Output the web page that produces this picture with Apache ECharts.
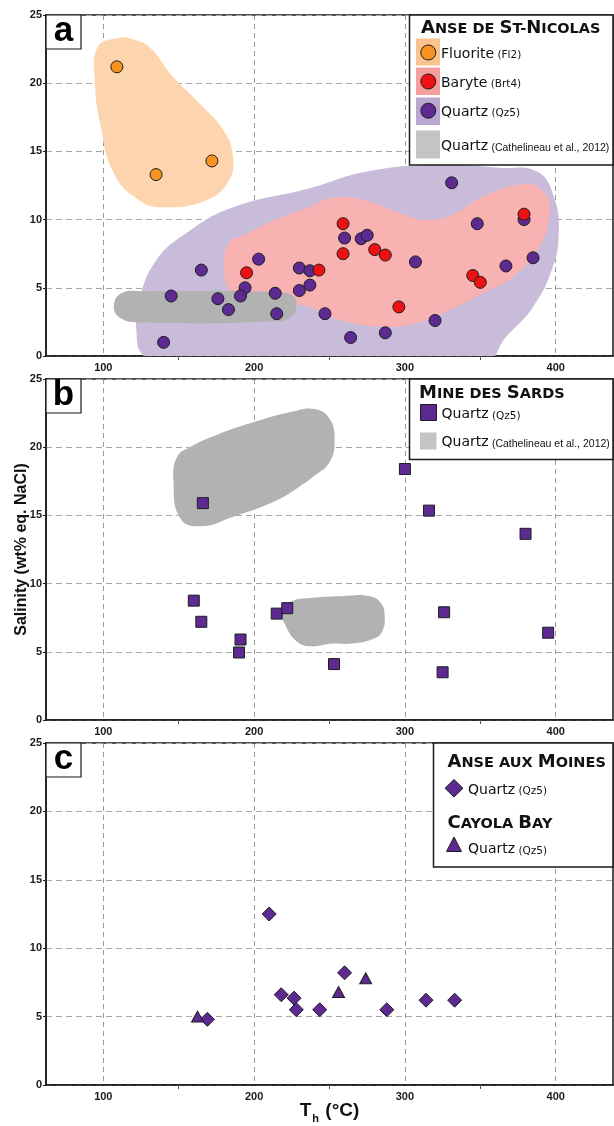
<!DOCTYPE html>
<html>
<head>
<meta charset="utf-8">
<script src="https://cdn.jsdelivr.net/npm/echarts@6/dist/echarts.min.js"></script>
<style>
html,body{margin:0;padding:0;background:#fff;}
#chart{width:614px;height:1126px;}
</style>
</head>
<body>
<div id="chart"></div>
<script>
// ---------- DATA ----------
// x ticks
const xTickLabels = [100, 200, 300, 400];
const xMinorTicks = [150, 250, 350];
// Panel a : Anse de St-Nicolas  [Th (°C), salinity wt% eq. NaCl]
const fluoriteFl2 = [[109,21.2],[135,13.3],[172,14.3]];
const baryteBrt4 = [[195,6.1],[259,9.7],[259,7.5],[243,6.3],[280,7.8],[287,7.4],[296,3.6],[345,5.9],[350,5.4],[379,10.4]];
const quartzQz5A = [[165,6.3],[203,7.1],[194,5.0],[191,4.4],[145,4.4],[176,4.2],[183,3.4],[140,1.0],[214,4.6],[215,3.1],
  [230,6.45],[230,4.8],[237,6.25],[237,5.2],[247,3.1],[260,8.65],[271,8.6],[275,8.85],[264,1.35],[287,1.7],
  [307,6.9],[320,2.6],[331,12.7],[348,9.7],[367,6.6],[379,10.0],[385,7.2]];
// Panel b : Mine des Sards
const quartzQz5B = [[166,15.9],[160,8.75],[165,7.2],[191,5.9],[190,4.95],[215,7.8],[222,8.2],[300,18.4],[316,15.35],
  [380,13.65],[326,7.9],[395,6.4],[253,4.1],[325,3.5]];
// Panel c : Anse aux Moines (diamonds) and Cayola Bay (triangles)
const moinesQz5 = [[210,12.5],[169,4.8],[218,6.6],[226.5,6.35],[228,5.5],[243.5,5.5],[260,8.2],[288,5.5],[314,6.2],[333,6.2]];
const cayolaQz5 = [[162.5,5.0],[256,6.8],[274,7.8]];
// Field outlines (data units)
const fieldFluorite = [[108.8,23.3],[120,23.2],[131,22.6],[146,20.5],[164,18.5],[180,16.5],[186,14.6],[183,12.8],[168,11.4],[140,10.9],[124,11.4],[107,13.4],[98,17],[94.5,20],[96,22.6]];
const fieldQuartzA = [[122,1.7],[124,4.1],[135,7.0],[155,9.0],[186,10.9],[237,12.3],[274,13.5],[318,14.0],[363,13.8],[388,13.5],[399,11.6],[402,9.0],[398,6.5],[385,3.6],[367,1.4],[352,-0.6],[250,-1.0],[140,-0.6],[126,0.1]];
const fieldBaryte = [[180,6.6],[184,8.4],[192,8.8],[212,9.9],[237,10.95],[252,11.6],[274,11.4],[296,10.5],[314,9.97],[332,10.4],[354,11.8],[380,12.6],[393,11.9],[396,10.4],[389,8.0],[371.5,5.8],[351.6,4.6],[329.6,3.37],[307.5,2.4],[285.4,2.15],[256.8,2.64],[237,3.6],[208,3.98],[186,4.6]];
const fieldCathA = [[107,3.7],[112,4.6],[125,4.75],[215,4.68],[226,4.4],[228,3.7],[225,2.9],[215,2.55],[125,2.45],[111,2.8]];
const fieldCathB1 = [[146.5,17.6],[149,19.3],[157.4,20.0],[175,20.9],[201.6,21.9],[225,22.6],[240,22.8],[250,22.1],[253.4,20.5],[250,18.9],[240,17.9],[230,17.1],[214.8,16.1],[186,14.9],[165,14.2],[151,14.8]];
const fieldCathB2 = [[218,8.0],[225,8.7],[237,8.95],[260,9.1],[276,9.1],[284,8.6],[286.6,7.6],[285,6.5],[280,6.0],[265,5.6],[252,5.6],[237,5.4],[228,5.8],[221,6.9]];

// ---------- STYLE ----------
const C = {
  orangeField:'#fcd4ad', pinkField:'#f8b2b2', purpleField:'#c9bbda', greyField:'#b2b2b2',
  orange:'#f7931e', red:'#ee1111', purple:'#5c2a91', edge:'#1e1e1e'
};
const grids = [
  {left:46, top:15, width:567, height:341},
  {left:46, top:379, width:567, height:341},
  {left:46, top:743, width:567, height:342}
];
const tickFont = {fontWeight:'bold', fontSize:11, color:'#1a1a1a', fontFamily:'Liberation Sans, Arial, sans-serif'};

function xAxes(g){
  const main = {
    gridIndex:g, type:'value', min:62, max:438, position:'bottom',
    axisLine:{show:true, onZero:false, lineStyle:{color:'#1a1a1a', width:1.5}},
    axisTick:{show:false, customValues:xTickLabels},
    axisLabel:Object.assign({customValues:xTickLabels, margin:6}, tickFont),
    splitLine:{show:true, lineStyle:{type:[5,4], color:'#9a9a9a', width:1}}
  };
  if (g===2){
    main.name = '{t|T}{s|h}{t| (°C)}';
    main.nameLocation = 'middle';
    main.nameGap = 15;
    main.nameMoveOverlap = false;
    main.nameTextStyle = {rich:{
      t:{fontSize:19, fontWeight:'bold', fontFamily:'Liberation Sans, Arial', color:'#111', verticalAlign:'bottom', lineHeight:20},
      s:{fontSize:11, fontWeight:'bold', fontFamily:'Liberation Sans, Arial', color:'#111', verticalAlign:'bottom', lineHeight:14, padding:[0,1,-4,1]}
    }};
  }
  const minor = {
    gridIndex:g, type:'value', min:62, max:438, position:'bottom',
    axisLine:{show:false}, axisLabel:{show:false}, splitLine:{show:false},
    axisTick:{show:true, customValues:xMinorTicks, length:4, lineStyle:{color:'#555', width:1}}
  };
  return [main, minor];
}
function yAxis(g){
  const y = {
    gridIndex:g, type:'value', min:0, max:25, interval:5,
    axisLine:{show:true, lineStyle:{color:'#1a1a1a', width:1.5}},
    axisTick:{show:true, length:3, lineStyle:{color:'#1a1a1a'}},
    axisLabel:Object.assign({margin:4}, tickFont),
    splitLine:{show:true, lineStyle:{type:[6,4], color:'#a8a8a8', width:1}}
  };
  if (g===1){
    y.name = 'Salinity (wt% eq. NaCl)';
    y.nameLocation = 'middle';
    y.nameGap = 16;
    y.nameMoveOverlap = false;
    y.nameTextStyle = {fontSize:16, fontWeight:'bold', fontFamily:'Liberation Sans, Arial', color:'#111'};
  }
  return y;
}
function field(name, g, pts, color, z){
  return {
    name, type:'custom', xAxisIndex:2*g, yAxisIndex:g, clip:true, silent:true, z,
    data: pts,
    renderItem:function(params, api){
      if (params.dataIndex !== 0) return null;
      return {type:'polygon', shape:{points: pts.map(p=>api.coord(p)), smooth:0.45},
              style:{fill:color}};
    }
  };
}
function points(name, g, data, symbol, size, color){
  return {
    name, type:'scatter', xAxisIndex:2*g, yAxisIndex:g, data, symbol, symbolSize:size, z:10,
    itemStyle:{color:color, borderColor:C.edge, borderWidth:1, opacity:1}
  };
}

// ---------- LEGEND / PANEL LABEL GRAPHICS ----------
const DJ = 'DejaVu Sans, Verdana, sans-serif';
const capsRich = {
  b:{fontSize:18, fontWeight:'bold', fontFamily:DJ, fill:'#111', verticalAlign:'bottom', lineHeight:20},
  s:{fontSize:14.5, fontWeight:'bold', fontFamily:DJ, fill:'#111', verticalAlign:'bottom', lineHeight:17}
};
const entryRich = {
  n:{fontSize:14, fontFamily:DJ, fill:'#111', verticalAlign:'bottom', lineHeight:17},
  p:{fontSize:10.5, fontFamily:DJ, fill:'#111', verticalAlign:'bottom', lineHeight:14},
  c:{fontSize:10.5, fontFamily:'Liberation Sans Narrow, Liberation Sans, Arial', fill:'#111', verticalAlign:'bottom', lineHeight:14}
};
function txt(x, y, text, rich){
  return {type:'text', x, y, z:100, style:{text, rich, align:'left', verticalAlign:'middle'}};
}
function box(x, y, w, h){
  return {type:'rect', z:99, shape:{x, y, width:w, height:h}, style:{fill:'#fff', stroke:'#1a1a1a', lineWidth:1.5}};
}
function panelLabel(y, letter){
  return [
    {type:'rect', z:99, shape:{x:46, y:y, width:35, height:34}, style:{fill:'#fff', stroke:'#1a1a1a', lineWidth:1.2}},
    {type:'text', z:100, x:63.5, y:y+16, style:{text:letter, font:'bold 35px Liberation Sans, Arial', fill:'#000', align:'center', verticalAlign:'middle'}}
  ];
}
const graphics = [].concat(
  panelLabel(15,'a'), panelLabel(379,'b'), panelLabel(743,'c'),
  // legend a
  [box(409.5, 15, 203.5, 150),
   txt(421, 27, '{b|A}{s|NSE DE }{b|S}{s|T-}{b|N}{s|ICOLAS}', capsRich),
   {type:'rect', z:100, shape:{x:416, y:38.5, width:24, height:27}, style:{fill:'#f9c28e'}},
   {type:'circle', z:101, shape:{cx:428.3, cy:52.5, r:7.5}, style:{fill:C.orange, stroke:C.edge, lineWidth:1}},
   txt(441, 52.5, '{n|Fluorite} {p|(Fl2)}', entryRich),
   {type:'rect', z:100, shape:{x:416, y:67.5, width:24, height:27.5}, style:{fill:'#f49e9e'}},
   {type:'circle', z:101, shape:{cx:428.3, cy:81.5, r:7.5}, style:{fill:C.red, stroke:C.edge, lineWidth:1}},
   txt(441, 81.5, '{n|Baryte} {p|(Brt4)}', entryRich),
   {type:'rect', z:100, shape:{x:416, y:97.5, width:24, height:27.5}, style:{fill:'#b9a6d1'}},
   {type:'circle', z:101, shape:{cx:428.3, cy:110.7, r:7.5}, style:{fill:C.purple, stroke:C.edge, lineWidth:1}},
   txt(441, 110.7, '{n|Quartz} {p|(Qz5)}', entryRich),
   {type:'rect', z:100, shape:{x:416, y:130.5, width:24, height:28}, style:{fill:'#c4c4c4'}},
   txt(441, 145, '{n|Quartz} {c|(Cathelineau et al., 2012)}', entryRich)
  ],
  // legend b
  [box(409.5, 379, 203.5, 80.5),
   txt(419, 392, '{b|M}{s|INE DES }{b|S}{s|ARDS}', capsRich),
   {type:'rect', z:101, shape:{x:420.5, y:404.5, width:16, height:16}, style:{fill:C.purple, stroke:C.edge, lineWidth:1}},
   txt(441.5, 413, '{n|Quartz} {p|(Qz5)}', entryRich),
   {type:'rect', z:100, shape:{x:420, y:432.5, width:16.5, height:17}, style:{fill:'#c4c4c4'}},
   txt(441.5, 441, '{n|Quartz} {c|(Cathelineau et al., 2012)}', entryRich)
  ],
  // legend c
  [box(433.5, 743, 179.5, 124),
   txt(447.5, 761, '{b|A}{s|NSE AUX }{b|M}{s|OINES}', capsRich),
   {type:'polygon', z:101, shape:{points:[[454,779.5],[463,788.3],[454,797],[445,788.3]]}, style:{fill:C.purple, stroke:C.edge, lineWidth:1}},
   txt(468, 788.5, '{n|Quartz} {p|(Qz5)}', entryRich),
   txt(447.5, 822, '{b|C}{s|AYOLA }{b|B}{s|AY}', capsRich),
   {type:'polygon', z:101, shape:{points:[[454,837],[461.5,851.5],[446.5,851.5]]}, style:{fill:C.purple, stroke:C.edge, lineWidth:1}},
   txt(468, 848, '{n|Quartz} {p|(Qz5)}', entryRich)
  ]
);

// ---------- CHART ----------
const chart = echarts.init(document.getElementById('chart'), null, {renderer:'canvas'});
chart.setOption({
  animation:false,
  backgroundColor:'#fff',
  grid: grids.map(g=>Object.assign({show:true, borderColor:'#1a1a1a', borderWidth:1.5, backgroundColor:'transparent', containLabel:false, outerBoundsMode:'none'}, g)),
  xAxis: [].concat(xAxes(0), xAxes(1), xAxes(2)),
  yAxis: [yAxis(0), yAxis(1), yAxis(2)],
  series: [
    field('Quartz (Qz5) field', 0, fieldQuartzA, C.purpleField, 1),
    field('Baryte (Brt4) field', 0, fieldBaryte, C.pinkField, 2),
    field('Quartz (Cathelineau et al., 2012)', 0, fieldCathA, C.greyField, 3),
    field('Fluorite (Fl2) field', 0, fieldFluorite, C.orangeField, 2),
    points('Fluorite (Fl2)', 0, fluoriteFl2, 'circle', 12, C.orange),
    points('Quartz (Qz5)', 0, quartzQz5A, 'circle', 12, C.purple),
    points('Baryte (Brt4)', 0, baryteBrt4, 'circle', 12, C.red),
    field('Quartz (Cathelineau et al., 2012) b1', 1, fieldCathB1, C.greyField, 3),
    field('Quartz (Cathelineau et al., 2012) b2', 1, fieldCathB2, C.greyField, 3),
    points('Mine des Sards Quartz (Qz5)', 1, quartzQz5B, 'rect', 11, C.purple),
    points('Anse aux Moines Quartz (Qz5)', 2, moinesQz5, 'diamond', 14, C.purple),
    points('Cayola Bay Quartz (Qz5)', 2, cayolaQz5, 'triangle', [12,11], C.purple)
  ],
  graphic: graphics
});
</script>
</body>
</html>
